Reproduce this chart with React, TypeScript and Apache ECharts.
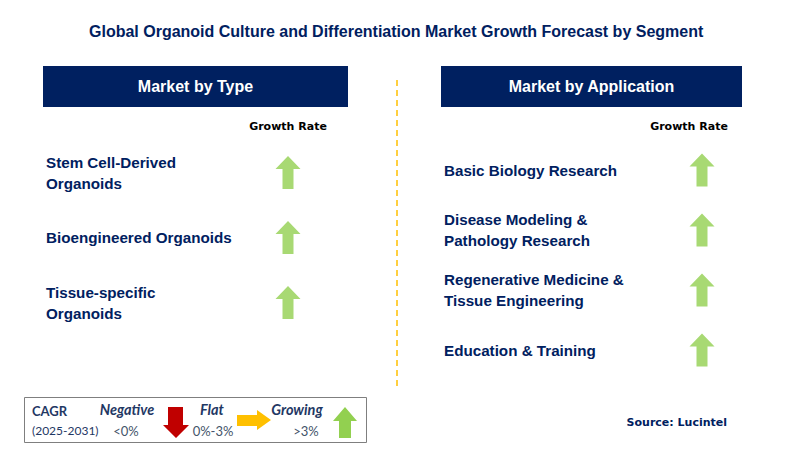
import React, { useEffect, useRef } from "react";
import * as echarts from "echarts";

const titleText = "Global Organoid Culture and Differentiation Market Growth Forecast by Segment";
const typeHeader = "Market by Type";
const appHeader = "Market by Application";
const growthColumn = ["Growth Rate"];
const typeSegments = ["Stem Cell-Derived\nOrganoids", "Bioengineered Organoids", "Tissue-specific\nOrganoids"];
const typeGrowth = ["Growing", "Growing", "Growing"];
const appSegments = [
  "Basic Biology Research",
  "Disease Modeling &\nPathology Research",
  "Regenerative Medicine &\nTissue Engineering",
  "Education & Training",
];
const appGrowth = ["Growing", "Growing", "Growing", "Growing"];
const legendLabels = ["Negative", "Flat", "Growing"];
const legendRanges = ["<0%", "0%-3%", ">3%"];
const sourceText = "Source: Lucintel";

const NAVY = "#002060";
const GREEN = "#92D050";
const RED = "#C00000";
const YELLOW = "#FFC000";

const UP = "path://M12.5,0 L25,13 L18,13 L18,33 L7,33 L7,13 L0,13 Z";
const DOWN = "path://M5,0 L20,0 L20,18 L25,18 L12.5,31 L0,18 L5,18 Z";
const RIGHT = "path://M0,5 L20,5 L20,0 L33,10 L20,20 L20,15 L0,15 Z";

const symbolFor = (g: string) => (g === "Growing" ? UP : g === "Flat" ? RIGHT : DOWN);
const colorFor = (g: string) => (g === "Growing" ? GREEN : g === "Flat" ? YELLOW : RED);
const sizeFor = (g: string) => (g === "Flat" ? [33, 20] : [25, 33]);

export default function App() {
  const ref = useRef<HTMLDivElement>(null);
  useEffect(() => {
    if (!ref.current) return;
    const chart = echarts.init(ref.current, undefined, { renderer: "svg" });
    const labelFont = {
      fontFamily: "Liberation Sans, Arial, sans-serif",
      fontWeight: "bold" as const,
      fontSize: 15.2,
      color: NAVY,
      lineHeight: 21,
    };
    const growthHeaderStyle = {
      fontFamily: "DejaVu Sans, sans-serif",
      fontWeight: "bold" as const,
      fontSize: 11,
      color: "#000000",
    };
    const mkData = (segs: string[], gr: string[]) =>
      segs.map((s, i) => ({
        value: [growthColumn[0], s],
        symbol: symbolFor(gr[i]),
        symbolSize: sizeFor(gr[i]),
        itemStyle: { color: colorFor(gr[i]) },
      }));
    const legendFam = "Lato, Open Sans, sans-serif";
    chart.setOption({
      animation: false,
      backgroundColor: "#ffffff",
      title: {
        text: titleText,
        left: 84,
        top: 18,
        textStyle: {
          fontFamily: "Liberation Sans, Arial, sans-serif",
          fontWeight: "bold",
          fontSize: 16,
          color: NAVY,
        },
      },
      grid: [
        { left: 250, width: 76, top: 140, height: 195 },
        { left: 664, width: 76, top: 140, height: 240 },
      ],
      xAxis: [
        {
          gridIndex: 0,
          type: "category",
          position: "top",
          data: growthColumn,
          axisLine: { show: false },
          axisTick: { show: false },
          splitLine: { show: false },
          axisLabel: { ...growthHeaderStyle, margin: 8 },
        },
        {
          gridIndex: 1,
          type: "category",
          position: "top",
          data: growthColumn,
          axisLine: { show: false },
          axisTick: { show: false },
          splitLine: { show: false },
          axisLabel: { ...growthHeaderStyle, margin: 8, padding: [0, 26, 0, 0] },
        },
      ],
      yAxis: [
        {
          gridIndex: 0,
          type: "category",
          inverse: true,
          data: typeSegments,
          axisLine: { show: false },
          axisTick: { show: false },
          splitLine: { show: false },
          axisLabel: { ...labelFont, align: "left", margin: 204 },
        },
        {
          gridIndex: 1,
          type: "category",
          inverse: true,
          data: appSegments,
          axisLine: { show: false },
          axisTick: { show: false },
          splitLine: { show: false },
          axisLabel: { ...labelFont, align: "left", margin: 220 },
        },
      ],
      series: [
        { type: "scatter", xAxisIndex: 0, yAxisIndex: 0, data: mkData(typeSegments, typeGrowth), silent: true },
        { type: "scatter", xAxisIndex: 1, yAxisIndex: 1, data: mkData(appSegments, appGrowth), silent: true },
      ],
      graphic: [
        {
          type: "rect",
          shape: { x: 43, y: 66, width: 305, height: 41 },
          style: { fill: NAVY },
        },
        {
          type: "text",
          x: 195.5,
          y: 86.5,
          style: {
            text: typeHeader,
            fill: "#ffffff",
            font: "bold 16px Liberation Sans, Arial, sans-serif",
            textAlign: "center",
            textVerticalAlign: "middle",
          },
        },
        {
          type: "rect",
          shape: { x: 441, y: 66, width: 301, height: 41 },
          style: { fill: NAVY },
        },
        {
          type: "text",
          x: 591.5,
          y: 86.5,
          style: {
            text: appHeader,
            fill: "#ffffff",
            font: "bold 16px Liberation Sans, Arial, sans-serif",
            textAlign: "center",
            textVerticalAlign: "middle",
          },
        },
        {
          type: "line",
          shape: { x1: 397, y1: 80, x2: 397, y2: 388 },
          style: { stroke: YELLOW, lineWidth: 1.5, lineDash: [6, 4] },
        },
        {
          type: "rect",
          shape: { x: 24.5, y: 397.5, width: 342, height: 45 },
          style: { fill: "#ffffff", stroke: "#7f7f7f", lineWidth: 1 },
        },
        {
          type: "text",
          x: 32,
          y: 411,
          style: { text: "CAGR", fill: "#1F3864", font: `bold 13px ${legendFam}`, textVerticalAlign: "middle" },
        },
        {
          type: "text",
          x: 32,
          y: 430,
          style: { text: "(2025-2031)", fill: "#1F3864", font: `12px ${legendFam}`, textVerticalAlign: "middle" },
        },
        ...legendLabels.map((l, i) => ({
          type: "text",
          x: [127, 212, 297][i],
          y: 409,
          style: {
            text: l,
            fill: "#1F3864",
            font: `italic bold 14.5px ${legendFam}`,
            textAlign: "center",
            textVerticalAlign: "middle",
          },
        })),
        ...legendRanges.map((l, i) => ({
          type: "text",
          x: [126, 213, 306][i],
          y: 431,
          style: {
            text: l,
            fill: "#44546A",
            font: `13px ${legendFam}`,
            textAlign: "center",
            textVerticalAlign: "middle",
          },
        })),
        {
          type: "polygon",
          shape: { points: [[168, 407], [183, 407], [183, 425], [189, 425], [176, 438], [163, 425], [168, 425]] },
          style: { fill: RED },
        },
        {
          type: "polygon",
          shape: { points: [[237, 415], [257, 415], [257, 410], [271, 420], [257, 430], [257, 426], [237, 426]] },
          style: { fill: YELLOW },
        },
        {
          type: "polygon",
          shape: { points: [[345, 407], [357, 421], [351, 421], [351, 438], [339, 438], [339, 421], [333, 421]] },
          style: { fill: GREEN },
        },
        {
          type: "text",
          x: 727,
          y: 422,
          style: {
            text: sourceText,
            fill: NAVY,
            font: "bold 11px DejaVu Sans, sans-serif",
            textAlign: "right",
            textVerticalAlign: "middle",
          },
        },
      ],
    });
    return () => chart.dispose();
  }, []);
  return <div ref={ref} style={{ position: "fixed", left: 0, top: 0, width: 806, height: 467 }} />;
}
